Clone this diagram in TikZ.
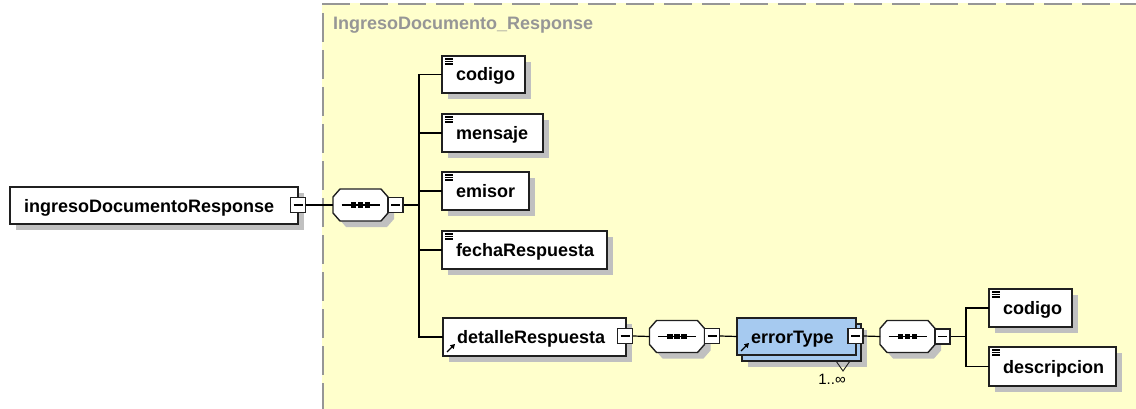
\documentclass[tikz,border=0pt]{standalone}
\usepackage{fontspec}
\setmainfont{Liberation Sans}
\usetikzlibrary{shadows,arrows.meta}
\definecolor{yel}{RGB}{255,255,204}
\definecolor{blu}{RGB}{166,202,240}
\definecolor{shd}{RGB}{192,192,192}
\definecolor{ttl}{RGB}{150,150,150}
\definecolor{brd}{RGB}{32,32,32}
\newcommand\docicon[1]{%
  \foreach \d in {3,5.5,8} \draw[line width=1.1pt] ([shift={(3,\d)}]#1.north west) -- +(8,0);}
\newcommand\refarrow[1]{%
  \draw[line width=1.4pt,-{Triangle[length=4.5pt,width=5pt]}] ([shift={(4,-4)}]#1.south west) -- +(8,-8);}
\newcommand\octpath[2]{(#1-20.5,#2-16) -- (#1+20.5,#2-16) -- (#1+27.5,#2-8) -- (#1+27.5,#2+8) -- (#1+20.5,#2+16) -- (#1-20.5,#2+16) -- (#1-27.5,#2+8) -- (#1-27.5,#2-8) -- cycle}
% #1 node name, #2 cx, #3 cy
\newcommand\seqnode[3]{%
  \fill[shd] \octpath{#2+6}{#3+6};
  \filldraw[fill=white, draw=brd, line width=1.4pt] \octpath{#2}{#3};
  \node[seqbox] (#1) at (#2,#3) {};
  \draw[line width=1.2pt] ([xshift=-19pt]#1.center) -- ([xshift=19pt]#1.center);
  \foreach \d in {-7,0,7} \fill ([shift={(\d-2.75,-2.75)}]#1.center) rectangle +(5.5,5.5);}
\begin{document}
\begin{tikzpicture}[x=1pt,y=-1pt,
  elem/.style={draw=brd, line width=1.5pt, fill=white, outer sep=0pt,
    font=\bfseries\fontsize{18}{20}\selectfont, text height=13pt, text depth=0pt,
    inner xsep=14pt, inner ysep=0pt, minimum height=37pt, align=left, anchor=north west},
  shadowed/.style={drop shadow={shadow xshift=6pt, shadow yshift=-6pt, fill=shd, opacity=1}},
  mbox/.style={draw=brd, line width=1.1pt, fill=white, minimum size=15pt, inner sep=0pt,
    path picture={\draw[line width=1.2pt,black] ([xshift=3pt]path picture bounding box.west) -- ([xshift=-3pt]path picture bounding box.east);}},
  seqbox/.style={rectangle, draw=none, minimum width=55pt, minimum height=32pt, inner sep=0pt, outer sep=0pt},
  conn/.style={line width=1.2pt, black}
]
\useasboundingbox (0,0) rectangle (1136,409);
% group background
\fill[yel] (322,3) rectangle (1136,409);
\draw[ttl, line width=2pt, dash pattern=on 28pt off 10pt] (322,4) -- (1136,4);
\draw[ttl, line width=2pt, dash pattern=on 29pt off 8pt] (323,13) -- (323,409);
\node[anchor=west, text=ttl, font=\bfseries\fontsize{18}{20}\selectfont, inner sep=0pt] (title) at (333,25) {IngresoDocumento\_Response};

% root
\node[elem, shadowed, text width=260pt] (root) at (10,187) {ingresoDocumentoResponse};
\node[mbox] (m0) at (298,205) {};
\seqnode{s1}{360.5}{205}
\node[mbox] (m1) at (395.5,205) {};
\coordinate (j1) at (419,205);

% children
\node[elem, shadowed, text width=55pt] (codigo) at (442,56) {codigo};
\node[elem, shadowed, text width=73pt, minimum height=38pt] (mensaje) at (442,114) {mensaje};
\node[elem, shadowed, text width=59pt, minimum height=38pt] (emisor) at (442,172) {emisor};
\node[elem, shadowed, text width=137pt, minimum height=38pt] (fecha) at (442,231) {fechaRespuesta};
\node[elem, shadowed, text width=155pt, minimum height=38pt] (det) at (443,318) {detalleRespuesta};
\docicon{codigo}\docicon{mensaje}\docicon{emisor}\docicon{fecha}
\refarrow{det}
\node[mbox] (m2) at (625,336) {};
\seqnode{s2}{677}{336.5}
\node[mbox] (m3) at (712,336) {};

% errorType
\node[elem, shadowed, fill=blu, minimum width=119pt, text width=91pt] (etb) at (742,324) {\phantom{e}};
\node[elem, fill=blu, text width=91pt] (et) at (737,318) {errorType};
\refarrow{et}
\draw[line width=0.9pt, brd] ([xshift=-25pt]etb.south east) -- ([shift={(-18,10)}]etb.south east) -- ([xshift=-11pt]etb.south east);
\node[font=\fontsize{15}{17}\selectfont, inner sep=0pt] (mult) at (832,379) {1..∞};
\node[mbox] (m4) at (855.5,336) {};
\seqnode{s3}{907.5}{336.5}
\node[mbox] (m5) at (942.5,336.5) {};
\coordinate (j2) at (966,336.5);

\node[elem, shadowed, text width=55pt, minimum height=38pt] (c2) at (989,289) {codigo};
\node[elem, shadowed, text width=99pt, minimum height=39pt] (desc) at (989,347) {descripcion};
\docicon{c2}\docicon{desc}

% connectors
\draw[conn] (m0.east) -- (s1.west);
\draw[conn] (m1.east) -- (j1);
\draw[conn] (j1) |- (codigo.west);
\draw[conn] (j1) |- (mensaje.west);
\draw[conn] (j1) |- (emisor.west);
\draw[conn] (j1) |- (fecha.west);
\draw[conn] (j1) |- (det.west);
\draw[conn] (m2.east) -- (s2.west);
\draw[conn] (m3.east) -- (et.west);
\draw[conn] (m4.east) -- (s3.west);
\draw[conn] (m5.east) -- (j2);
\draw[conn] (j2) |- (c2.west);
\draw[conn] (j2) |- (desc.west);
\end{tikzpicture}
\end{document}
